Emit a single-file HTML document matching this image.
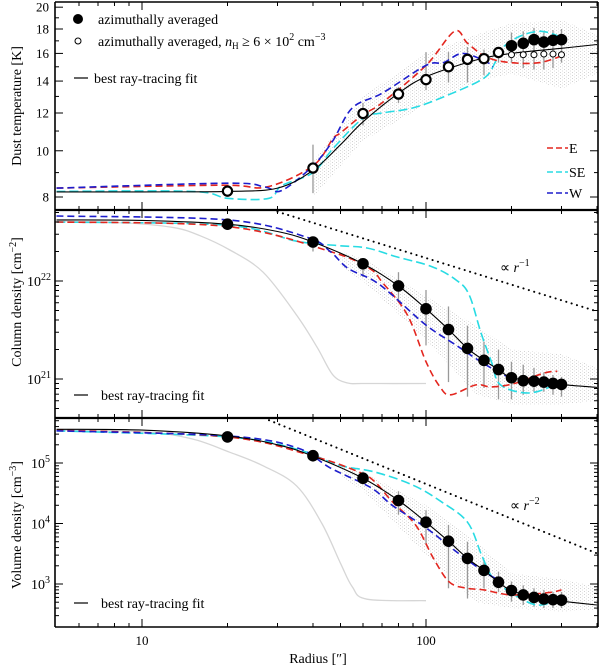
<!DOCTYPE html>
<html><head><meta charset="utf-8"><style>
html,body{margin:0;padding:0;background:#fff;}
svg{display:block;font-family:"Liberation Serif",serif;}
</style></head><body>
<svg id="chart" width="600" height="667" viewBox="0 0 600 667" xmlns="http://www.w3.org/2000/svg">
<defs>
<pattern id="scatter" width="4" height="3" patternUnits="userSpaceOnUse">
<rect x="0" y="0" width="0.8" height="0.8" fill="#666"/><rect x="2" y="1.6" width="0.8" height="0.8" fill="#888"/>
</pattern>
</defs>
<g id="layer"></g>
</svg>
<script>
// ---------- data ----------
const radii = [20,40,60,80,100,120,140,160,180,200,220,240,260,280,300];
// Panel 1 : dust temperature [K]
const tempAvg = [8.23,9.2,11.97,13.15,14.1,15.0,15.55,15.6,16.07,16.6,16.8,17.1,16.9,17.05,17.1];
const tempDense = [null,null,null,null,null,null,null,null,null,15.9,15.9,15.9,15.95,15.95,15.9];
const tempErrHi = [8.3,10.3,12.6,13.6,16.1,16.1,16.5,16.3,16.4,17.7,17.8,18.1,17.7,17.9,18.0];
const tempErrLo = [8.15,8.15,11.3,12.6,13.4,13.9,13.9,14.4,15.3,15.3,14.9,14.8,14.8,14.9,15.3];
const tempFitR = [5,10,20,30,40,50,60,80,100,150,200,300,400];
const tempFit = [8.2,8.2,8.22,8.35,9.1,10.3,11.5,13.2,14.3,15.5,16.0,16.4,16.7];
const tempER = [5,19,27.5,40,47,50,60,70,100,126,140,164,200,250,300];
const tempE = [8.35,8.47,8.4,9.3,10.6,10.9,11.9,12.6,15.1,17.8,16.8,15.7,15.3,15.3,15.8];
const tempSER = [5,15,20,28,31,40,47,60,70,90,120,160,175,185,215,255,300];
const tempSE = [8.22,8.22,7.95,7.95,8.45,9.0,10.1,11.7,12.0,12.3,13.1,14.2,15.3,16.4,17.4,17.8,17.3];
const tempWR = [5,20,27,31,40,47,55,70,100,115,135,165,172];
const tempW = [8.35,8.55,8.4,8.25,9.3,10.5,12.3,13.2,15.1,15.3,16.0,15.3,15.0];
const tempBandR = [40,60,100,150,200,300,400];
const tempBandHi = [9.5,13,16,17.5,18.5,18.8,17.5];
const tempBandLo = [8.0,10.5,12.5,14,14.5,13.5,14.5];
// Panel 2 : column density [1e21 cm^-2]
const colAvg = [38,25,15,8.9,5.2,3.2,2.05,1.55,1.25,1.03,0.96,0.95,0.93,0.9,0.88];
const colErrHi = [39,27.5,17,12.3,8.1,5.5,3.5,2.4,2.0,1.5,1.4,1.3,1.17,1.1,1.05];
const colErrLo = [37,20,11,6.2,2.2,0.93,0.66,0.81,0.62,0.62,0.69,0.74,0.74,0.69,0.66];
const colFitR = [5,10,20,30,40,60,80,100,120,140,160,180,200,250,300,400];
const colFit = [42,41.5,38,32,25,15,8.9,5.2,3.2,2.05,1.55,1.25,1.03,0.95,0.88,0.82];
const colGrayR = [5,9,13,16,20.4,26.7,35,41.4,47,53,60,100];
const colGray = [41,39,35,29,20.7,12.3,4.5,2.1,1.1,0.91,0.9,0.9];
const colSlopeR = [30,400];
const colSlope = [51,4.9];
const colER = [5,20,46,63,70,86,100,112,122,150,170,205,260,290];
const colE = [40,36,20,13.5,9.8,4.5,1.5,0.83,0.69,0.87,0.83,0.9,1.15,1.2];
const colSER = [5,20,35,49,62,79,105,128,142,156,170,183,230,285];
const colSE = [40,37,25.5,23,21.7,17.6,14,10.2,7.2,3.0,1.5,0.87,0.72,0.87];
const colWR = [5,20,38,46,53,65,76,100,128,156,188,200];
const colW = [46,42,28,20,13.5,10.2,7.2,3.55,2.2,1.5,1.1,1.05];
const colBandR = [50,60,100,150,200,300,400];
const colBandHi = [20,17,7,3.5,2,1.8,1.3];
const colBandLo = [14,10,2.5,0.7,0.55,0.55,0.6];
// Panel 3 : volume density [cm^-3]
const volAvg = [2.7e5,1.32e5,5.6e4,2.4e4,1.05e4,5.1e3,2.65e3,1.68e3,1.07e3,780,660,600,565,550,540];
const volErrHi = [2.8e5,1.6e5,7.2e4,3.4e4,1.66e4,9.5e3,5e3,2.5e3,1.6e3,1.1e3,950,850,800,740,740];
const volErrLo = [2.6e5,1.05e5,4.4e4,1.4e4,4.4e3,850,575,850,740,510,450,420,400,400,400];
const volFitR = [5,10,20,30,40,60,80,100,120,140,160,180,200,250,300,400];
const volFit = [3.6e5,3.5e5,2.8e5,2.0e5,1.3e5,5.6e4,2.4e4,1.05e4,5.1e3,2.65e3,1.68e3,1.07e3,780,580,520,450];
const volGrayR = [5,10,15,20.4,26.7,35,43,50,55,62,100];
const volGray = [3.5e5,3.3e5,2.5e5,1.5e5,9e4,4.2e4,1.0e4,2.2e3,900,560,530];
const volSlopeR = [28,400];
const volSlope = [5.1e5,3.2e3];
const volER = [5,20,40,58,66,76,92,106,121,140,160,200,270,300];
const volE = [3.5e5,2.7e5,1.3e5,7.1e4,4.9e4,2.3e4,9.4e3,2.7e3,1.07e3,850,800,660,720,800];
const volSER = [5,20,35,49,66,90,113,140,157,172,200,245,290];
const volSE = [3.4e5,2.7e5,1.7e5,9.3e4,7.1e4,4.3e4,2.3e4,1.05e4,3e3,1.25e3,710,450,540];
const volWR = [5,20,35,46,64,76,100,128,160,180];
const volW = [3.4e5,2.8e5,1.8e5,8.3e4,3.9e4,2.0e4,8.5e3,3.4e3,1.6e3,1.17e3];
const volBandR = [50,60,100,150,200,300,400];
const volBandHi = [9e4,7e4,2e4,5e3,1.5e3,1.2e3,900];
const volBandLo = [6e4,3.5e4,3e3,500,400,350,380];

// ---------- scales ----------
const L = Math.log10;
const X0 = 55, X1 = 598;
const xS = r => 142 + 284*(L(r)-1);
const yT = v => 197 - 477*(L(v)-L(8));
const yN = v => 281 - 98*(L(v)-1);
const yV = v => 463 - 60.5*(L(v)-5);
const panels = [{top:2,bot:210,y:yT},{top:210,bot:418,y:yN},{top:418,bot:627,y:yV}];

const NS = "http://www.w3.org/2000/svg";
const layer = document.getElementById('layer');
function mk(tag, attrs, parent){
  const e = document.createElementNS(NS, tag);
  for (const k in attrs) e.setAttribute(k, attrs[k]);
  (parent||layer).appendChild(e);
  return e;
}
function smoothPath(pts){
  if (pts.length<2) return '';
  let d = 'M'+pts[0][0].toFixed(1)+','+pts[0][1].toFixed(1);
  for (let i=0;i<pts.length-1;i++){
    const p0=pts[Math.max(0,i-1)], p1=pts[i], p2=pts[i+1], p3=pts[Math.min(pts.length-1,i+2)];
    const c1=[p1[0]+(p2[0]-p0[0])/6, p1[1]+(p2[1]-p0[1])/6];
    const c2=[p2[0]-(p3[0]-p1[0])/6, p2[1]-(p3[1]-p1[1])/6];
    d += 'C'+c1[0].toFixed(1)+','+c1[1].toFixed(1)+' '+c2[0].toFixed(1)+','+c2[1].toFixed(1)+' '+p2[0].toFixed(1)+','+p2[1].toFixed(1);
  }
  return d;
}
function clipFor(i){
  const p = panels[i];
  const cp = mk('clipPath',{id:'clip'+i});
  mk('rect',{x:X0,y:p.top,width:X1-X0,height:p.bot-p.top},cp);
}
[0,1,2].forEach(clipFor);

function curve(i, rs, vs, style, name){
  const p = panels[i];
  const pts = rs.map((r,k)=>[xS(r), p.y(vs[k])]);
  const el = mk('path', Object.assign({d:smoothPath(pts), fill:'none', 'clip-path':'url(#clip'+i+')'}, style));
  
  
}
function band(i, rs, hi, lo, name){
  const p = panels[i];
  const top = rs.map((r,k)=>[xS(r), p.y(hi[k])]);
  const bot = rs.map((r,k)=>[xS(r), p.y(lo[k])]).reverse();
  const d = 'M'+top.concat(bot).map(q=>q[0].toFixed(1)+','+q[1].toFixed(1)).join('L')+'Z';
  const el = mk('path',{d:d, fill:'url(#scatter)', opacity:'0.45', 'clip-path':'url(#clip'+i+')'});
  
  
}
function errs(i, hi, lo, name){
  const p = panels[i];
  radii.forEach((r,k)=>{
    const el = mk('line',{x1:xS(r),x2:xS(r),y1:p.y(hi[k]),y2:p.y(lo[k]),stroke:'#999','stroke-width':1.3});
    
    
  });
}
function dots(i, vals, rad, fill, stroke, sw, name){
  const p = panels[i];
  radii.forEach((r,k)=>{
    if (vals[k]==null) return;
    const el = mk('circle',{cx:xS(r),cy:p.y(vals[k]),r:rad,fill:fill,stroke:stroke,'stroke-width':sw});
    
    
  });
}
const RED={stroke:'#e3261f','stroke-width':1.6,'stroke-dasharray':'7,4'};
const CYAN={stroke:'#28dbe3','stroke-width':1.6,'stroke-dasharray':'9,4'};
const BLUE={stroke:'#1d1dcc','stroke-width':1.6,'stroke-dasharray':'7,4'};
const BLACK={stroke:'#000','stroke-width':1.1};
const GRAY={stroke:'#d6d6d6','stroke-width':1.3};
const DOT={stroke:'#000','stroke-width':2,'stroke-dasharray':'0.1,5.5','stroke-linecap':'round'};

// Panel 1
band(0,tempBandR,tempBandHi,tempBandLo,'temperature-scatter');
errs(0,tempErrHi,tempErrLo,'temperature-error-bar');
curve(0,tempSER,tempSE,CYAN,'temperature-se-line');
curve(0,tempER,tempE,RED,'temperature-e-line');
curve(0,tempWR,tempW,BLUE,'temperature-w-line');
curve(0,tempFitR,tempFit,BLACK,'temperature-fit-line');
radii.forEach((r,k)=>{
  const big = k<9;
  const el = mk('circle',{cx:xS(r),cy:yT(tempAvg[k]),r:big?4.6:5.3,fill:big?'#fff':'#000',stroke:'#000','stroke-width':big?2.2:1});
  
  
});
dots(0,tempDense,3,'#fff','#000',1,'temperature-dense-point');

// Panel 2
band(1,colBandR,colBandHi,colBandLo,'column-scatter');
curve(1,colGrayR,colGray,GRAY,'column-gray-line');
curve(1,colSlopeR,colSlope,DOT,'column-slope-line');
errs(1,colErrHi,colErrLo,'column-error-bar');
curve(1,colSER,colSE,CYAN,'column-se-line');
curve(1,colER,colE,RED,'column-e-line');
curve(1,colWR,colW,BLUE,'column-w-line');
curve(1,colFitR,colFit,BLACK,'column-fit-line');
dots(1,colAvg,5.3,'#000','#000',1,'column-point');

// Panel 3
band(2,volBandR,volBandHi,volBandLo,'volume-scatter');
curve(2,volGrayR,volGray,GRAY,'volume-gray-line');
curve(2,volSlopeR,volSlope,DOT,'volume-slope-line');
errs(2,volErrHi,volErrLo,'volume-error-bar');
curve(2,volSER,volSE,CYAN,'volume-se-line');
curve(2,volER,volE,RED,'volume-e-line');
curve(2,volWR,volW,BLUE,'volume-w-line');
curve(2,volFitR,volFit,BLACK,'volume-fit-line');
dots(2,volAvg,5.3,'#000','#000',1,'volume-point');

// ---------- axes ----------
const xMajors=[10,100], xMinors=[6,7,8,9,20,30,40,50,60,70,80,90,200,300,400];
function tick(x1,y1,x2,y2,name){
  const el = mk('line',{x1:x1,y1:y1,x2:x2,y2:y2,stroke:'#000','stroke-width':1});
  
  
}
panels.forEach((p,i)=>{
  xMajors.forEach(r=>{tick(xS(r),p.top,xS(r),p.top+8,'x-major-tick');tick(xS(r),p.bot,xS(r),p.bot-8,'x-major-tick');});
  xMinors.forEach(r=>{tick(xS(r),p.top,xS(r),p.top+4,'x-minor-tick');tick(xS(r),p.bot,xS(r),p.bot-4,'x-minor-tick');});
});
const tMaj=[8,10,12,14,16,18,20], tMin=[9,11,13,15,17,19,21];
tMaj.forEach(v=>{tick(X0,yT(v),X0+8,yT(v),'y-major-tick');tick(X1,yT(v),X1-8,yT(v),'y-major-tick');});
tMin.forEach(v=>{if(yT(v)>3){tick(X0,yT(v),X0+4,yT(v),'y-minor-tick');tick(X1,yT(v),X1-4,yT(v),'y-minor-tick');}});
function logTicks(i, decades){
  const p=panels[i];
  decades.forEach(d=>{for(let m=1;m<10;m++){const v=m*d, y=p.y(v); if(y<=p.top+1||y>=p.bot-1) continue;
    const len=m===1?8:4; tick(X0,y,X0+len,y,m===1?'y-major-tick':'y-minor-tick'); tick(X1,y,X1-len,y,m===1?'y-major-tick':'y-minor-tick');}});
}
logTicks(1,[0.1,1,10,100]);
logTicks(2,[100,1000,1e4,1e5,1e6]);

function rule(x1,y1,x2,y2,w,name){
  const el = mk('line',{x1:x1,y1:y1,x2:x2,y2:y2,stroke:'#000','stroke-width':w});
  
  
}
rule(X0,627,X0,2,1.6,'left-axis');
rule(X1,627,X1,2,1.6,'right-axis');
rule(X0,2,X1,2,1.6,'top-axis');
rule(X0,210,X1,210,2.2,'panel-divider-1');
rule(X0,418,X1,418,2.2,'panel-divider-2');
rule(X0,627,X1,627,1.6,'bottom-axis');

function text(x,y,str,attrs,name){
  const el = mk('text',Object.assign({x:x,y:y,'font-size':14,fill:'#000'},attrs||{}));
  el.textContent = str;
  
  
  return el;
}
const tLabels=['8','10','12','14','16','18','20'];
tMaj.forEach((v,k)=>text(49,yT(v)+4.5,tLabels[k],{'text-anchor':'end','font-size':13},'y-tick-label'));
function powLabel(x,y,exp,name){
  const el = text(x,y,'10',{'text-anchor':'start','font-size':14},name);
  const ts = document.createElementNS(NS,'tspan');
  ts.setAttribute('dy','-6'); ts.setAttribute('font-size','10'); ts.textContent=exp;
  el.appendChild(ts);
}
const colExp=['22','21'], colTickVals=[10,1];
colTickVals.forEach((v,k)=>powLabel(27,yN(v)+5,colExp[k],'y-tick-label'));
const volExp=['5','4','3'], volTickVals=[1e5,1e4,1e3];
volTickVals.forEach((v,k)=>powLabel(31,yV(v)+5,volExp[k],'y-tick-label'));
text(xS(10),645,'10',{'text-anchor':'middle','font-size':13},'x-tick-label');
text(xS(100),645,'100',{'text-anchor':'middle','font-size':13},'x-tick-label');
text(318,663,'Radius [″]',{'text-anchor':'middle','font-size':14},'x-axis-title');
text(0,0,'Dust temperature [K]',{'text-anchor':'middle',transform:'translate(21,106) rotate(-90)'},'y-axis-title-temperature');
const ct = text(0,0,'Column density [cm',{'text-anchor':'middle',transform:'translate(21,302) rotate(-90)'},'y-axis-title-column');
ct.innerHTML='Column density [cm<tspan dy="-5" font-size="10">−2</tspan><tspan dy="5">]</tspan>';
const vt = text(0,0,'Volume density [cm',{'text-anchor':'middle',transform:'translate(21,525) rotate(-90)'},'y-axis-title-volume');
vt.innerHTML='Volume density [cm<tspan dy="-5" font-size="10">−3</tspan><tspan dy="5">]</tspan>';

const lg1=mk('circle',{cx:78,cy:19,r:5,fill:'#000'});  
text(98,24,'azimuthally averaged',{},'legend-entry-averaged');
const lg2=mk('circle',{cx:78,cy:41,r:3,fill:'#fff',stroke:'#000','stroke-width':1});  
const le2=text(98,46,'',{},'legend-entry-dense');
le2.innerHTML='azimuthally averaged, <tspan font-style="italic">n</tspan><tspan font-size="9" dy="3">H</tspan><tspan dy="-3"> ≥ 6 × 10</tspan><tspan font-size="10" dy="-6">2</tspan><tspan dy="6"> cm</tspan><tspan font-size="10" dy="-6">−3</tspan>';
rule(74,78,88,78,1.2,'legend-fit-line-1'); text(94,83,'best ray-tracing fit',{},'legend-entry-fit');
rule(74,395,88,395,1.2,'legend-fit-line-2'); text(101,400,'best ray-tracing fit',{},'legend-entry-fit-2');
rule(74,603,88,603,1.2,'legend-fit-line-3'); text(101,608,'best ray-tracing fit',{},'legend-entry-fit-3');
const legs=[['E',148,RED],['SE',172,CYAN],['W',193,BLUE]];
legs.forEach(l=>{
  const e=mk('line',Object.assign({x1:547,x2:568,y1:l[1],y2:l[1]},l[2],{'stroke-dasharray':'6,3'}));
   
  text(569,l[1]+5,l[0],{},'legend-'+l[0].toLowerCase()+'-label');
});
const s1=text(500,272,'',{},'slope-label-r1'); s1.innerHTML='∝ <tspan font-style="italic">r</tspan><tspan font-size="10" dy="-6">−1</tspan>';
const s2=text(510,510,'',{},'slope-label-r2'); s2.innerHTML='∝ <tspan font-style="italic">r</tspan><tspan font-size="10" dy="-6">−2</tspan>';
</script>
</body></html>
